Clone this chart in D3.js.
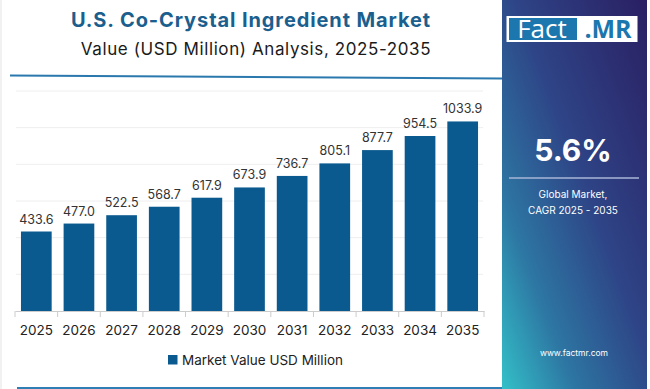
<!DOCTYPE html>
<html>
<head>
<meta charset="utf-8">
<script src="https://cdn.jsdelivr.net/npm/d3@7"></script>
<style>
  html, body { margin: 0; padding: 0; background: #fff; }
  svg { display: block; font-family: Inter, "Open Sans", sans-serif; }
</style>
</head>
<body>
<svg id="chart" width="650" height="389"></svg>
<script>
// chart data
const years = ['2025', '2026', '2027', '2028', '2029', '2030', '2031', '2032', '2033', '2034', '2035']
const marketValues = [433.6, 477.0, 522.5, 568.7, 617.9, 673.9, 736.7, 805.1, 877.7, 954.5, 1033.9]
const gridTicks = [0, 200, 400, 600, 800, 1000, 1200]

const titleText = 'U.S. Co-Crystal Ingredient Market'
const subtitleText = 'Value (USD Million) Analysis, 2025-2035'
const legendText = 'Market Value USD Million'
const cagrText = '5.6%'
const cagrLines = ['Global Market,', 'CAGR 2025 - 2035']
const siteText = 'www.factmr.com'

const svg = d3.select('#chart')
const barColor = '#0b5a8f'

// left frame
svg.append('rect').attr('x', 0).attr('y', 0).attr('width', 2).attr('height', 389).attr('fill', '#f1f1f1')
svg.append('line')
  .attr('x1', 17).attr('x2', 502).attr('y1', 388).attr('y2', 388)
  .attr('stroke', '#2f7fb5').attr('stroke-width', 2)

// titles
svg.append('text')
  .attr('x', 251).attr('y', 27)
  .attr('text-anchor', 'middle')
  .attr('font-size', 20).attr('font-weight', 700)
  .attr('letter-spacing', 0.9)
  .attr('fill', '#1b5f8e')
  .text(titleText)

svg.append('text')
  .attr('x', 256).attr('y', 55)
  .attr('text-anchor', 'middle')
  .attr('font-size', 17)
  .attr('letter-spacing', 0.6)
  .attr('fill', '#1a1a1a')
  .text(subtitleText)

svg.append('line')
  .attr('x1', 10).attr('x2', 502).attr('y1', 75.5).attr('y2', 78.5)
  .attr('stroke', '#2a78ad').attr('stroke-width', 2)

// scales
const xScale = d3.scaleBand().domain(years).range([15, 484]).paddingInner(0.28).paddingOuter(0.14)
const yScale = d3.scaleLinear().domain([0, 1200]).range([311, 91])

const g = svg.append('g').attr('id', 'graph-g')

// gridlines
g.selectAll('.grid')
  .data(gridTicks.slice(1))
  .join('line')
  .attr('class', 'grid')
  .attr('x1', 16).attr('x2', 483)
  .attr('y1', function(d) {return yScale(d)})
  .attr('y2', function(d) {return yScale(d)})
  .attr('stroke', '#eeeeee').attr('stroke-width', 1)

// bars
g.selectAll('.bar')
  .data(marketValues)
  .join('rect')
  .attr('class', 'bar')
  .attr('x', function(d, i) {return xScale(years[i])})
  .attr('y', function(d) {return yScale(d)})
  .attr('width', xScale.bandwidth())
  .attr('height', function(d) {return yScale(0) - yScale(d)})
  .attr('fill', barColor)

// value labels
g.selectAll('.value')
  .data(marketValues)
  .join('text')
  .attr('class', 'value')
  .attr('x', function(d, i) {return xScale(years[i]) + xScale.bandwidth() / 2})
  .attr('y', function(d) {return yScale(d) - 8})
  .attr('text-anchor', 'middle')
  .attr('font-size', 12.5)
  .attr('fill', '#333')
  .text(function(d) {return d.toFixed(1)})

// x axis, ticks sit on band boundaries
const xAxis = g.append('g')
  .attr('class', 'xaxis')
  .attr('transform', 'translate(0, 311)')
  .call(d3.axisBottom(xScale).tickSize(0).tickPadding(14))
xAxis.select('.domain').attr('stroke', '#cccccc')
xAxis.selectAll('text').attr('font-size', 13.5).attr('fill', '#222').attr('font-family', 'Inter, sans-serif')

const step = xScale.step()
g.selectAll('.band-tick')
  .data(d3.range(years.length + 1))
  .join('line')
  .attr('class', 'band-tick')
  .attr('x1', function(i) {return 15 + i * step})
  .attr('x2', function(i) {return 15 + i * step})
  .attr('y1', 311).attr('y2', 317)
  .attr('stroke', '#cccccc')

// legend
svg.append('rect').attr('x', 168).attr('y', 355).attr('width', 9.5).attr('height', 9.5).attr('fill', barColor)
svg.append('text')
  .attr('x', 182).attr('y', 365)
  .attr('font-size', 13.5).attr('fill', '#222')
  .text(legendText)

// side panel
const defs = svg.append('defs')
const grad = defs.append('linearGradient')
  .attr('id', 'panel-grad')
  .attr('x1', '100%').attr('y1', '0%').attr('x2', '0%').attr('y2', '100%')
grad.append('stop').attr('offset', '0%').attr('stop-color', '#2a1f63')
grad.append('stop').attr('offset', '45%').attr('stop-color', '#2e4486')
grad.append('stop').attr('offset', '75%').attr('stop-color', '#2d76a3')
grad.append('stop').attr('offset', '100%').attr('stop-color', '#33c0c8')

svg.append('rect')
  .attr('x', 502).attr('y', 0).attr('width', 145).attr('height', 389)
  .attr('fill', 'url(#panel-grad)')

// logo
svg.append('rect').attr('x', 506.5).attr('y', 16).attr('width', 131).attr('height', 26).attr('fill', '#fff')
svg.append('rect').attr('x', 509).attr('y', 18).attr('width', 68).attr('height', 22).attr('fill', '#1b77ae')
svg.append('text')
  .attr('x', 542).attr('y', 37.5)
  .attr('text-anchor', 'middle')
  .attr('font-family', '"Open Sans", sans-serif')
  .attr('font-size', 26).attr('fill', '#fff')
  .text('Fact')
svg.append('text')
  .attr('x', 608).attr('y', 38)
  .attr('text-anchor', 'middle')
  .attr('font-family', '"Open Sans", sans-serif')
  .attr('font-size', 25).attr('font-weight', 700).attr('fill', '#1b77ae')
  .text('.MR')

svg.append('text')
  .attr('x', 573).attr('y', 161)
  .attr('text-anchor', 'middle')
  .attr('font-size', 30).attr('font-weight', 700).attr('fill', '#fff')
  .text(cagrText)

svg.append('line')
  .attr('x1', 509).attr('x2', 639).attr('y1', 178).attr('y2', 178)
  .attr('stroke', '#a9b6d6').attr('stroke-width', 1.5)

svg.selectAll('.cagr-line')
  .data(cagrLines)
  .join('text')
  .attr('class', 'cagr-line')
  .attr('x', 573)
  .attr('y', function(d, i) {return 198 + i * 15.5})
  .attr('text-anchor', 'middle')
  .attr('font-size', 10).attr('fill', '#fff')
  .text(function(d) {return d})

svg.append('text')
  .attr('x', 574).attr('y', 355.5)
  .attr('text-anchor', 'middle')
  .attr('font-size', 8.5).attr('fill', '#fff')
  .text(siteText)
</script>
</body>
</html>
